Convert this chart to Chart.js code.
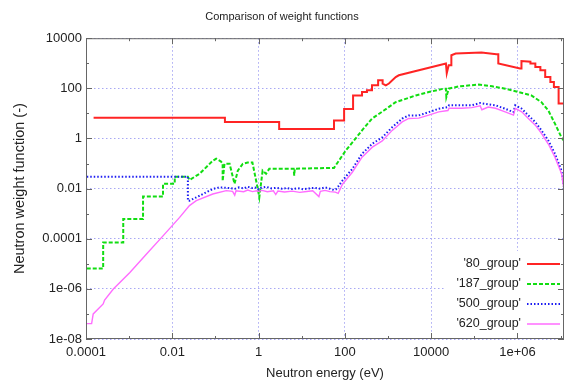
<!DOCTYPE html>
<html>
<head>
<meta charset="utf-8">
<title>Comparison of weight functions</title>
<script src="https://cdn.jsdelivr.net/npm/chart.js@4.4.1/dist/chart.umd.min.js"></script>
<style>
  html, body { margin: 0; padding: 0; background: #fff; }
  #grafica { display: block; width: 566px; height: 383px; }
</style>
</head>
<body>
<canvas id="grafica" width="566" height="383"></canvas>
<script>
// ── DATOS ────────────────────────────────────────────────────
const nombresGrupos = ["'80_group'", "'187_group'", "'500_group'", "'620_group'"];

const energia80 = [1.5e-4, 0.166, 0.166, 3, 3, 56, 56, 96, 96, 155, 155, 250, 250, 325, 325, 425, 425, 590, 590, 750, 750, 890, 1050, 1510, 1780, 2.2e4, 2.3e4, 2.55e4, 2.94e4, 2.94e4, 3.7e4, 1.47e5, 3.25e5, 3.6e5, 3.6e5, 1.15e6, 1.24e6, 1.24e6, 2.0e6, 2.0e6, 2.6e6, 2.6e6, 3.4e6, 3.4e6, 4.4e6, 4.4e6, 5.8e6, 5.8e6, 7.0e6, 7.0e6, 9.0e6, 9.0e6, 1.2e7];
const peso80    = [6.7, 6.7, 4.5, 4.5, 2.4, 2.4, 5.2, 5.2, 15, 15, 52, 52, 71, 71, 83, 83, 132, 132, 209, 209, 155, 132, 155, 282, 331, 977, 398, 830, 830, 2090, 2450, 2690, 2290, 2290, 977, 615, 615, 1230, 1150, 977, 977, 710, 710, 525, 525, 282, 282, 178, 178, 112, 112, 25, 25];

const energia187 = [1.04e-4, 2.5e-4, 2.5e-4, 7.3e-4, 7.3e-4, 2.1e-3, 2.1e-3, 6.1e-3, 6.1e-3, 0.0114, 0.0114, 0.023, 0.025, 0.043, 0.087, 0.104, 0.135, 0.147, 0.147, 0.162, 0.213, 0.277, 0.33, 0.43, 0.56, 0.72, 0.96, 1.04, 1.24, 1.49, 1.77, 6.5, 6.7, 6.9, 56, 105, 163, 250, 425, 800, 1500, 4400, 8800, 1.95e4, 2.2e4, 2.25e4, 2.55e4, 4.4e4, 1.26e5, 2.6e5, 5.2e5, 1.05e6, 2.1e6, 3.6e6, 5.2e6, 7.4e6, 1.05e7, 1.2e7];
const peso187    = [6.5e-6, 6.5e-6, 7.1e-5, 7.1e-5, 6.1e-4, 6.1e-4, 4.8e-3, 4.8e-3, 0.0155, 0.0155, 0.030, 0.030, 0.022, 0.039, 0.13, 0.155, 0.12, 0.10, 0.02, 0.097, 0.097, 0.0155, 0.052, 0.097, 0.11, 0.11, 0.0097, 0.0045, 0.052, 0.039, 0.062, 0.062, 0.033, 0.062, 0.067, 0.33, 0.83, 2.1, 6.2, 13, 28, 52, 71, 97, 97, 45, 97, 120, 141, 120, 97, 71, 52, 28, 13, 3.9, 1.1, 0.8];

const energia500 = [1.04e-4, 0.023, 0.023, 0.025, 0.043, 0.087, 0.124, 0.21, 0.28, 0.35, 0.45, 0.56, 0.72, 0.9, 1.0, 1.15, 1.5, 2, 2.6, 3.5, 4.5, 6, 8, 11, 15, 20, 27, 35, 45, 56, 62, 70, 88, 149, 250, 433, 735, 1250, 2130, 3020, 5140, 8750, 1.5e4, 2.45e4, 2.6e4, 5.1e4, 8.7e4, 1.37e5, 2.1e5, 3.1e5, 5.2e5, 8.1e5, 8.9e5, 1.26e6, 1.79e6, 2.6e6, 3.6e6, 5.2e6, 7.4e6, 1.05e7, 1.2e7];
const peso500    = [0.030, 0.030, 0.0033, 0.0033, 0.0052, 0.0097, 0.0112, 0.0105, 0.0098, 0.0112, 0.0102, 0.0118, 0.0105, 0.0112, 0.0092, 0.0108, 0.0118, 0.0102, 0.0108, 0.0098, 0.0106, 0.0096, 0.0104, 0.0094, 0.0102, 0.0108, 0.0098, 0.0112, 0.0099, 0.0088, 0.0093, 0.012, 0.021, 0.061, 0.245, 0.62, 1.1, 2.8, 6.2, 8.3, 8.3, 11.2, 15.4, 17.8, 21, 21, 21, 26, 23, 21, 15.4, 11.2, 21, 15.4, 8.3, 4.5, 2.1, 0.83, 0.245, 0.052, 0.011];

const energia620 = [1.04e-4, 1.35e-4, 1.47e-4, 2.5e-4, 2.7e-4, 4.3e-4, 1.04e-3, 2.5e-3, 6.1e-3, 0.0148, 0.025, 0.036, 0.087, 0.178, 0.25, 0.28, 0.3, 0.45, 0.56, 0.72, 0.9, 1.0, 1.2, 1.6, 2.2, 2.5, 2.8, 4, 6, 9, 13, 18, 25, 27, 35, 45, 60, 70, 88, 149, 250, 433, 735, 1250, 2130, 3020, 5140, 8750, 1.5e4, 2.45e4, 2.6e4, 5.1e4, 8.7e4, 1.37e5, 1.5e5, 2.1e5, 3.1e5, 5.2e5, 8.1e5, 8.9e5, 1.26e6, 1.79e6, 2.6e6, 3.6e6, 5.2e6, 7.4e6, 1.05e7, 1.2e7];
const peso620    = [4.1e-8, 4.1e-8, 1.0e-7, 2.5e-7, 3.6e-7, 9.8e-7, 4.5e-6, 2.4e-5, 1.3e-4, 7.1e-4, 2.1e-3, 3.3e-3, 6.1e-3, 8.3e-3, 0.0078, 0.0055, 0.0082, 0.0075, 0.0088, 0.0076, 0.0082, 0.0078, 0.0085, 0.0075, 0.0082, 0.0058, 0.008, 0.0073, 0.0079, 0.0071, 0.0077, 0.0082, 0.0048, 0.0078, 0.0085, 0.0076, 0.0072, 0.0065, 0.015, 0.045, 0.18, 0.45, 0.8, 2.1, 4.6, 6.3, 6.5, 8.5, 11.5, 13, 16, 16, 17, 20, 14, 18, 16, 11.5, 8.5, 16, 11.5, 6.2, 3.4, 1.6, 0.6, 0.18, 0.04, 0.009];

const ticksX      = [1e-4, 1e-2, 1, 1e2, 1e4, 1e6];
const etiquetasX  = ['0.0001', '0.01', '1', '100', '10000', '1e+06'];
const ticksY      = [1e-8, 1e-6, 1e-4, 1e-2, 1, 1e2, 1e4];
const etiquetasY  = ['1e-08', '1e-06', '0.0001', '0.01', '1', '100', '10000'];

// ── ESTILO ───────────────────────────────────────────────────
const fuente = "'Liberation Sans', Arial, Helvetica, sans-serif";
Chart.defaults.font.family = fuente;

const puntos = (xs, ys) => xs.map((x, i) => ({ x: x, y: ys[i] }));

const estilos = [
    { color: '#ff2424', ancho: 2,   dash: [] },
    { color: '#11dd11', ancho: 2,   dash: [4, 2] },
    { color: '#1c1cf2', ancho: 2,   dash: [1.5, 2] },
    { color: '#ff6cff', ancho: 1.4, dash: [] }
];
const series = [[energia80, peso80], [energia187, peso187], [energia500, peso500], [energia620, peso620]];

// Marcas interiores en los cuatro lados, marco y leyenda estilo gnuplot
const marcoYLeyenda = {
    id: 'marcoYLeyenda',
    afterDraw(chart) {
        const ctx = chart.ctx;
        const a = chart.chartArea;
        const sx = chart.scales.x, sy = chart.scales.y;
        ctx.save();

        // leyenda
        ctx.fillStyle = '#fff';
        ctx.fillRect(a.right - 118, a.bottom - 88, 117, 82);
        ctx.font = '12.5px ' + fuente;
        ctx.textAlign = 'right';
        ctx.textBaseline = 'middle';
        nombresGrupos.forEach((nombre, i) => {
            const y = a.bottom - 75 + i * 20;
            ctx.fillStyle = '#222';
            ctx.fillText(nombre, a.right - 43, y);
            ctx.beginPath();
            ctx.strokeStyle = estilos[i].color;
            ctx.lineWidth = estilos[i].ancho;
            ctx.setLineDash(estilos[i].dash);
            ctx.moveTo(a.right - 37, y);
            ctx.lineTo(a.right - 4, y);
            ctx.stroke();
        });
        ctx.setLineDash([]);

        // marco
        ctx.strokeStyle = '#666';
        ctx.lineWidth = 1;
        ctx.strokeRect(a.left + 0.5, a.top + 0.5, a.right - a.left - 1, a.bottom - a.top - 1);

        // marcas por década
        ctx.beginPath();
        for (let e = -4; e <= 7; e++) {
            const px = Math.round(sx.getPixelForValue(Math.pow(10, e))) + 0.5;
            if (px > a.right - 1) continue;
            const l = (e % 2 === 0) ? 6 : 3;
            ctx.moveTo(px, a.bottom); ctx.lineTo(px, a.bottom - l);
            ctx.moveTo(px, a.top);    ctx.lineTo(px, a.top + l);
        }
        for (let e = -8; e <= 4; e++) {
            const py = Math.round(sy.getPixelForValue(Math.pow(10, e))) + 0.5;
            const l = (e % 2 === 0) ? 6 : 3;
            ctx.moveTo(a.left, py);  ctx.lineTo(a.left + l, py);
            ctx.moveTo(a.right, py); ctx.lineTo(a.right - l, py);
        }
        ctx.stroke();
        ctx.restore();
    }
};

new Chart(document.getElementById('grafica'), {
    type: 'line',
    data: {
        datasets: series.map((s, i) => ({
            label: nombresGrupos[i],
            data: puntos(s[0], s[1]),
            borderColor: estilos[i].color,
            borderWidth: estilos[i].ancho,
            borderDash: estilos[i].dash,
            pointRadius: 0,
            tension: 0,
            fill: false,
            order: 4 - i
        }))
    },
    options: {
        responsive: false,
        devicePixelRatio: 1,
        animation: false,
        layout: { padding: { left: 0, right: 2, top: 0, bottom: 0 } },
        plugins: {
            legend: { display: false },
            tooltip: { enabled: false },
            title: {
                display: true,
                text: 'Comparison of weight functions',
                color: '#222',
                font: { size: 11, weight: 'normal' },
                padding: { top: 10, bottom: 15 }
            }
        },
        scales: {
            x: {
                type: 'logarithmic',
                min: 1e-4,
                max: 1.2e7,
                afterFit: s => { s.height = 44; },
                afterBuildTicks: s => { s.ticks = ticksX.map(v => ({ value: v })); },
                ticks: {
                    color: '#222',
                    font: { size: 13 },
                    padding: 6,
                    maxRotation: 0,
                    autoSkip: false,
                    callback: (v) => etiquetasX[ticksX.indexOf(v)]
                },
                grid: { color: '#a8a8f4', lineWidth: 1, drawTicks: false },
                border: { display: false, dash: [1.5, 2.5] },
                title: {
                    display: true,
                    text: 'Neutron energy (eV)',
                    color: '#222',
                    font: { size: 13 },
                    padding: { top: 0, bottom: 2 }
                }
            },
            y: {
                type: 'logarithmic',
                min: 1e-8,
                max: 1e4,
                afterFit: s => { s.width = 86; },
                afterBuildTicks: s => { s.ticks = ticksY.map(v => ({ value: v })); },
                ticks: {
                    color: '#222',
                    font: { size: 13 },
                    padding: 4,
                    autoSkip: false,
                    callback: (v) => etiquetasY[ticksY.indexOf(v)]
                },
                grid: { color: '#a8a8f4', lineWidth: 1, drawTicks: false },
                border: { display: false, dash: [1.5, 2.5] },
                title: {
                    display: true,
                    text: 'Neutron weight function (-)',
                    color: '#222',
                    font: { size: 14.5 },
                    padding: { top: 11, bottom: 0 }
                }
            }
        }
    },
    plugins: [marcoYLeyenda]
});
</script>
</body>
</html>
